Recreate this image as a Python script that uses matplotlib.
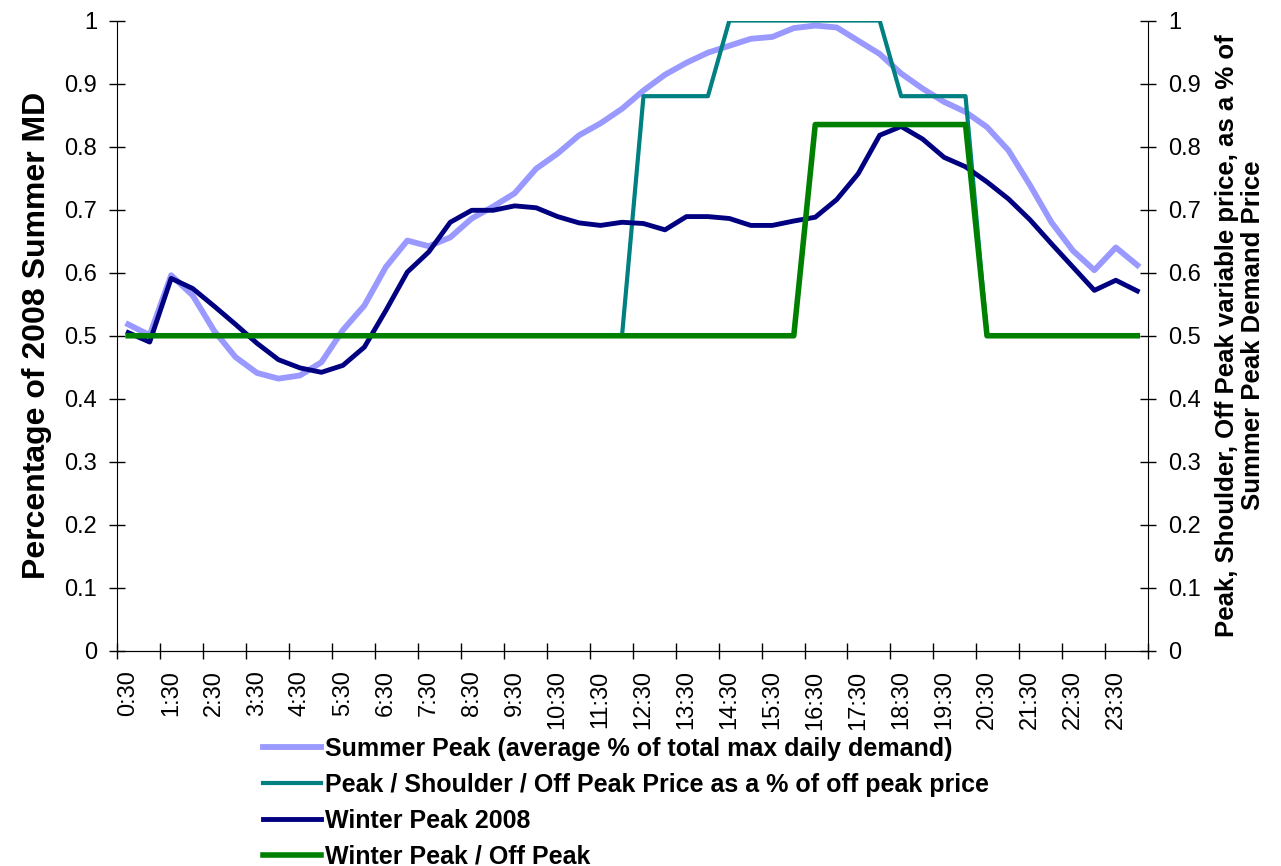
import matplotlib.pyplot as plt

plt.rcParams['font.family'] = ['Liberation Sans', 'DejaVu Sans']

times = ["0:30", "1:00", "1:30", "2:00", "2:30", "3:00", "3:30", "4:00",
         "4:30", "5:00", "5:30", "6:00", "6:30", "7:00", "7:30", "8:00",
         "8:30", "9:00", "9:30", "10:00", "10:30", "11:00", "11:30", "12:00",
         "12:30", "13:00", "13:30", "14:00", "14:30", "15:00", "15:30", "16:00",
         "16:30", "17:00", "17:30", "18:00", "18:30", "19:00", "19:30", "20:00",
         "20:30", "21:00", "21:30", "22:00", "22:30", "23:00", "23:30", "0:00"]

summer = [0.518, 0.501, 0.596, 0.564, 0.508, 0.466, 0.441, 0.432,
          0.437, 0.458, 0.509, 0.548, 0.609, 0.651, 0.642, 0.656,
          0.686, 0.705, 0.726, 0.765, 0.789, 0.818, 0.837, 0.860,
          0.889, 0.914, 0.933, 0.949, 0.960, 0.971, 0.974, 0.988,
          0.992, 0.989, 0.968, 0.947, 0.916, 0.892, 0.871, 0.855,
          0.831, 0.794, 0.739, 0.680, 0.635, 0.604, 0.640, 0.612]

winter = [0.505, 0.490, 0.591, 0.575, 0.547, 0.518, 0.488, 0.462,
          0.449, 0.442, 0.453, 0.482, 0.540, 0.601, 0.633, 0.680,
          0.699, 0.699, 0.706, 0.703, 0.689, 0.679, 0.675, 0.680,
          0.678, 0.668, 0.689, 0.689, 0.686, 0.675, 0.675, 0.682,
          0.688, 0.716, 0.757, 0.818, 0.832, 0.812, 0.783, 0.768,
          0.744, 0.717, 0.684, 0.646, 0.609, 0.572, 0.588, 0.571]

price_summer = [0.5] * 24 + [0.88] * 4 + [1.0] * 8 + [0.88] * 4 + [0.5] * 8
price_winter = [0.5] * 32 + [0.835] * 8 + [0.5] * 8

labels = ["Summer Peak (average % of total max daily demand)",
          "Peak / Shoulder / Off Peak Price as a % of off peak price",
          "Winter Peak 2008",
          "Winter Peak / Off Peak"]

x = list(range(len(times)))

fig = plt.figure(figsize=(12.81, 8.66), dpi=100)
ax = fig.add_axes([0.0917, 0.2483, 0.8045, 0.728])

l1, = ax.plot(x, summer, color="#9999FF", lw=4.2)
l2, = ax.plot(x, price_summer, color="#008080", lw=3.0)
l3, = ax.plot(x, winter, color="#000080", lw=3.5)
l4, = ax.plot(x, price_winter, color="#008000", lw=4.0)

ax.set_xlim(-0.5, len(times) - 0.5)
ax.set_ylim(0, 1)

yt = [i / 10 for i in range(11)]
ylab = ["0"] + ["%.1f" % v for v in yt[1:-1]] + ["1"]
ax.set_yticks(yt)
ax.set_yticklabels(ylab, fontsize=17)
ax.tick_params(axis="y", direction="inout", length=11, width=1, pad=9)

# tick marks between categories, labels on every other category
ax.set_xticks([i - 0.5 for i in range(0, len(times) + 1, 2)])
ax.set_xticklabels([])
ax.set_xticks(x[::2], minor=True)
ax.set_xticklabels(times[::2], minor=True, rotation=90, fontsize=17)
ax.tick_params(axis="x", which="major", direction="inout", length=12, width=1)
ax.tick_params(axis="x", which="minor", length=0, pad=14)

ax.spines["top"].set_visible(False)
ax.spines["right"].set_visible(False)
ax.set_ylabel("Percentage of 2008 Summer MD", fontsize=23, fontweight="bold",
              labelpad=9)

ax2 = ax.twinx()
ax2.set_ylim(0, 1)
ax2.set_yticks(yt)
ax2.set_yticklabels(ylab, fontsize=17)
ax2.tick_params(axis="y", direction="inout", length=11, width=1, pad=9)
ax2.spines["top"].set_visible(False)
ax2.spines["left"].set_visible(False)
ax2.set_ylabel("Peak, Shoulder, Off Peak variable price, as a % of\nSummer Peak Demand Price",
               fontsize=18.5, fontweight="bold", labelpad=10, linespacing=1.1)

fig.legend([l1, l2, l3, l4], labels, loc="upper left",
           bbox_to_anchor=(263 / 1281, 1 - 737 / 866), frameon=False,
           prop={"size": 18, "weight": "bold"}, handlelength=2.3,
           handletextpad=0.19, labelspacing=0.47, borderaxespad=0,
           borderpad=0)

plt.savefig("out.png", dpi=100)
